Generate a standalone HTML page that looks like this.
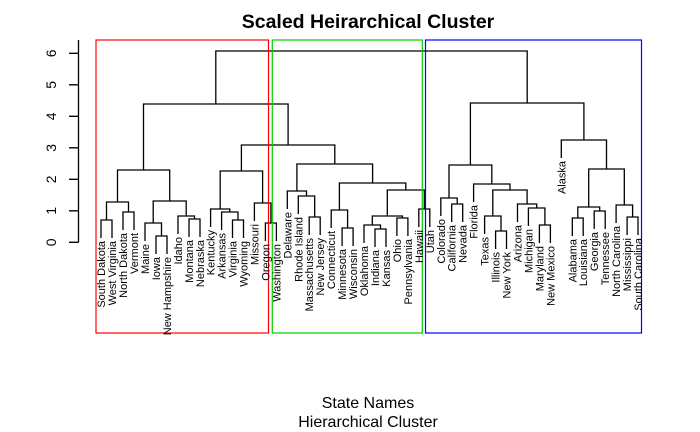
<!DOCTYPE html>
<html><head><meta charset="utf-8"><style>
html,body{margin:0;padding:0;background:#fff;}
svg{display:block;}
.l{fill:none;stroke:#000;stroke-width:1.3;}
.t{font-family:"Liberation Sans",sans-serif;font-size:11px;fill:#000;}
</style></head><body>
<svg width="700" height="432" viewBox="0 0 700 432" xmlns="http://www.w3.org/2000/svg">
<text x="368" y="28" text-anchor="middle" style="font-family:'Liberation Sans',sans-serif;font-size:19.5px;font-weight:bold">Scaled Heirarchical Cluster</text>
<text x="368" y="408" text-anchor="middle" style="font-family:'Liberation Sans',sans-serif;font-size:16px">State Names</text>
<text x="368" y="427" text-anchor="middle" style="font-family:'Liberation Sans',sans-serif;font-size:16px">Hierarchical Cluster</text>
<path class="l" d="M78.5 40V242.3M69 242.3H78.5M69 210.8H78.5M69 179.3H78.5M69 147.8H78.5M69 116.3H78.5M69 84.8H78.5M69 53.3H78.5"/>
<g style="font-family:'Liberation Sans',sans-serif;font-size:14px" text-anchor="middle">
<text transform="translate(56,242.3) rotate(-90)">0</text>
<text transform="translate(56,210.8) rotate(-90)">1</text>
<text transform="translate(56,179.3) rotate(-90)">2</text>
<text transform="translate(56,147.8) rotate(-90)">3</text>
<text transform="translate(56,116.3) rotate(-90)">4</text>
<text transform="translate(56,84.8) rotate(-90)">5</text>
<text transform="translate(56,53.3) rotate(-90)">6</text>
</g>
<path class="l" d="
M101 238V220H112V238
M123 230V212H134V230
M106.5 220V202H128.5V212
M156 254V236H167V254
M145 241V223H161.5V236
M189 237V219H200V237
M178 234V216H194.5V219
M153.2 223V201H186.2V216
M117.5 202V170H169.7V201
M232.5 238V220H243.5V238
M221.6 230V212H238V220
M210.6 227V209H229.8V212
M265.4 241V223H276.4V241
M254.4 221V203H270.9V223
M220.2 209V171H262.6V203
M309.2 235V217H320.2V235
M298.3 214V196H314.7V217
M287.3 209V191H306.5V196
M342.1 246V228H353.1V246
M331.2 228V210H347.6V228
M375 247V229H386V247
M364 243V225H380.5V229
M396.9 236V218H407.9V236
M372.3 225V216H402.4V218
M418.8 227V209H429.8V227
M387.3 216V190H424.3V209
M339.4 210V183H405.8V190
M296.9 191V164H372.6V183
M241.4 171V145H334.8V164
M143.5 170V104H288.1V145
M451.7 222V204H462.7V222
M440.8 216V198H457.2V204
M495.6 249V231H506.5V249
M484.6 234V216H501V231
M539.4 243V225H550.4V243
M528.4 226V208H544.9V225
M517.5 222V204H536.7V208
M492.8 216V190H527.1V204
M473.6 202V184H510V190
M449 198V165H491.8V184
M572.3 236V218H583.2V236
M594.2 229V211H605.2V229
M577.8 218V207H599.7V211
M627.1 235V217H638V235
M616.1 223V205H632.6V217
M588.7 207V169H624.3V205
M561.3 158V140H606.5V169
M470.4 165V103H583.9V140
M215.8 104V51H527.2V103
"/>
<rect x="96" y="40" width="172.5" height="293" fill="none" stroke="#ff0000" stroke-width="1.2"/>
<rect x="272.3" y="40" width="150" height="293" fill="none" stroke="#00cd00" stroke-width="1.2"/>
<rect x="425.5" y="40" width="216" height="293" fill="none" stroke="#0000ff" stroke-width="1.2"/>
<g class="t" text-anchor="end">
<text transform="translate(105,241) rotate(-90)">South Dakota</text>
<text transform="translate(116,241) rotate(-90)">West Virginia</text>
<text transform="translate(127,233) rotate(-90)">North Dakota</text>
<text transform="translate(138,233) rotate(-90)">Vermont</text>
<text transform="translate(149,244) rotate(-90)">Maine</text>
<text transform="translate(160,257) rotate(-90)">Iowa</text>
<text transform="translate(171,257) rotate(-90)">New Hampshire</text>
<text transform="translate(182,237) rotate(-90)">Idaho</text>
<text transform="translate(193,240) rotate(-90)">Montana</text>
<text transform="translate(204,240) rotate(-90)">Nebraska</text>
<text transform="translate(214.6,230) rotate(-90)">Kentucky</text>
<text transform="translate(225.6,233) rotate(-90)">Arkansas</text>
<text transform="translate(236.5,241) rotate(-90)">Virginia</text>
<text transform="translate(247.5,241) rotate(-90)">Wyoming</text>
<text transform="translate(258.4,224) rotate(-90)">Missouri</text>
<text transform="translate(269.4,244) rotate(-90)">Oregon</text>
<text transform="translate(280.4,244) rotate(-90)">Washington</text>
<text transform="translate(291.3,212) rotate(-90)">Delaware</text>
<text transform="translate(302.3,217) rotate(-90)">Rhode Island</text>
<text transform="translate(313.2,238) rotate(-90)">Massachusetts</text>
<text transform="translate(324.2,238) rotate(-90)">New Jersey</text>
<text transform="translate(335.2,231) rotate(-90)">Connecticut</text>
<text transform="translate(346.1,249) rotate(-90)">Minnesota</text>
<text transform="translate(357.1,249) rotate(-90)">Wisconsin</text>
<text transform="translate(368,246) rotate(-90)">Oklahoma</text>
<text transform="translate(379,250) rotate(-90)">Indiana</text>
<text transform="translate(390,250) rotate(-90)">Kansas</text>
<text transform="translate(400.9,239) rotate(-90)">Ohio</text>
<text transform="translate(411.9,239) rotate(-90)">Pennsylvania</text>
<text transform="translate(422.8,230) rotate(-90)">Hawaii</text>
<text transform="translate(433.8,230) rotate(-90)">Utah</text>
<text transform="translate(444.8,219) rotate(-90)">Colorado</text>
<text transform="translate(455.7,225) rotate(-90)">California</text>
<text transform="translate(466.7,225) rotate(-90)">Nevada</text>
<text transform="translate(477.6,205) rotate(-90)">Florida</text>
<text transform="translate(488.6,237) rotate(-90)">Texas</text>
<text transform="translate(499.6,252) rotate(-90)">Illinois</text>
<text transform="translate(510.5,252) rotate(-90)">New York</text>
<text transform="translate(521.5,225) rotate(-90)">Arizona</text>
<text transform="translate(532.4,229) rotate(-90)">Michigan</text>
<text transform="translate(543.4,246) rotate(-90)">Maryland</text>
<text transform="translate(554.4,246) rotate(-90)">New Mexico</text>
<text transform="translate(565.3,161) rotate(-90)">Alaska</text>
<text transform="translate(576.3,239) rotate(-90)">Alabama</text>
<text transform="translate(587.2,239) rotate(-90)">Louisiana</text>
<text transform="translate(598.2,232) rotate(-90)">Georgia</text>
<text transform="translate(609.2,232) rotate(-90)">Tennessee</text>
<text transform="translate(620.1,226) rotate(-90)">North Carolina</text>
<text transform="translate(631.1,238) rotate(-90)">Mississippi</text>
<text transform="translate(642,238) rotate(-90)">South Carolina</text>
</g>
</svg>
</body></html>
